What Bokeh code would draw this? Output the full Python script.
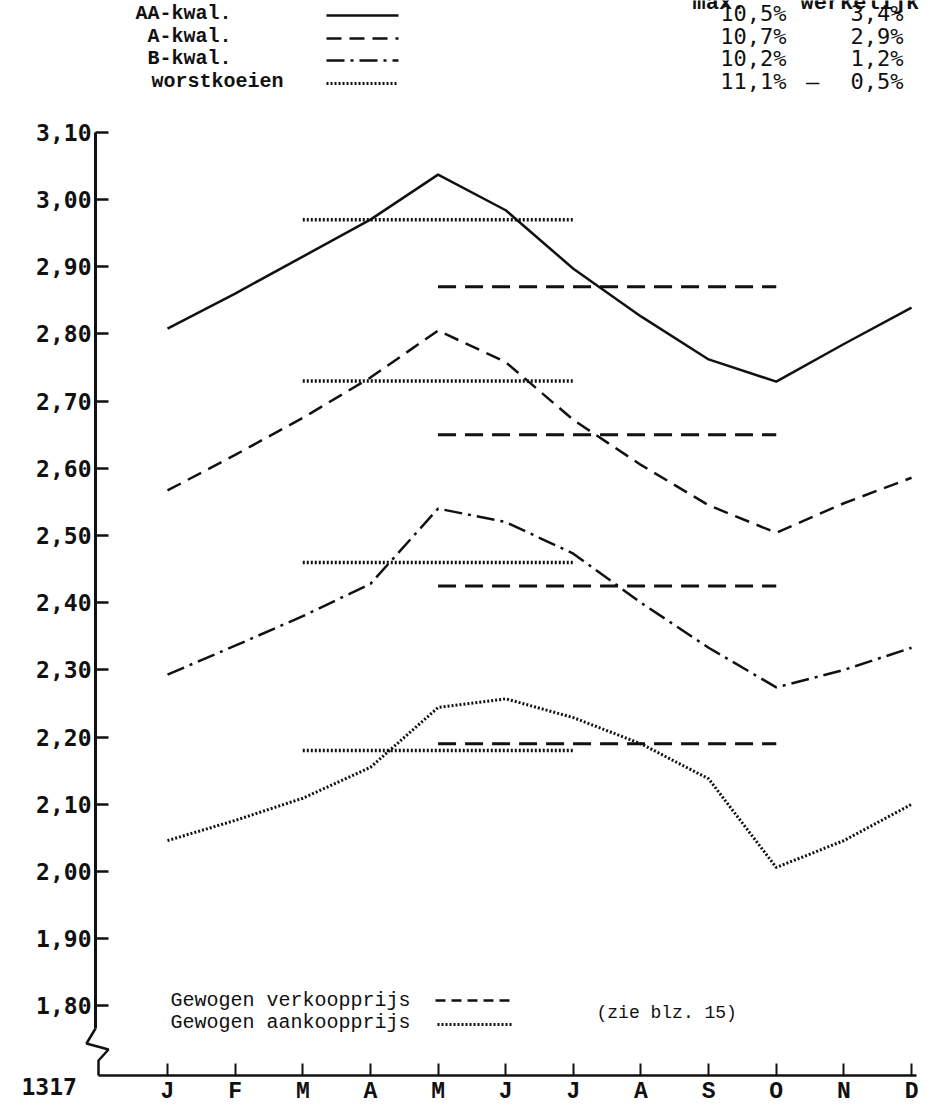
from bokeh.plotting import figure
from bokeh.models import Range1d, FixedTicker, LinearAxis, Label, CustomJSTickFormatter
from bokeh.embed import file_html
from bokeh.resources import INLINE

# ---------------- data ----------------
months = ["J", "F", "M", "A", "M", "J", "J", "A", "S", "O", "N", "D"]
month_pos = [1, 2, 3, 4, 5, 6, 7, 8, 9, 10, 11, 12]

aa_kwal = [2.808, 2.860, 2.915, 2.970, 3.037, 2.984, 2.897, 2.826, 2.762, 2.729, 2.785, 2.839]
a_kwal = [2.567, 2.620, 2.675, 2.735, 2.805, 2.758, 2.672, 2.605, 2.545, 2.504, 2.548, 2.586]
b_kwal = [2.293, 2.336, 2.380, 2.428, 2.540, 2.520, 2.473, 2.400, 2.333, 2.274, 2.300, 2.333]
worstkoeien = [2.046, 2.076, 2.109, 2.155, 2.244, 2.257, 2.229, 2.190, 2.138, 2.006, 2.046, 2.100]

# weighted purchase price (Mar-Jul) and weighted sale price (May-Oct)
aankoop_span = [3, 7]
aankoop = [2.97, 2.73, 2.46, 2.18]
verkoop_span = [5, 10]
verkoop = [2.87, 2.65, 2.425, 2.19]

series_names = ["AA-kwal.", "A-kwal.", "B-kwal.", "worstkoeien"]
max_pct = ["10,5%", "10,7%", "10,2%", "11,1%"]
werk_pct = ["3,4%", "2,9%", "1,2%", "0,5%"]

y_ticks = [1.80, 1.90, 2.00, 2.10, 2.20, 2.30, 2.40, 2.50, 2.60, 2.70, 2.80, 2.90, 3.00, 3.10]

# ---------------- layout helpers (picture pixel -> data) ----------------
W, H = 936, 1106
M1_PX, PX_MONTH = 167.0, 67.64
Y300_PX, PX_UNIT = 199.0, 672.0


def dx(px):
    return 1 + (px - M1_PX) / PX_MONTH


def dy(py):
    return 3.0 - (py - Y300_PX) / PX_UNIT


p = figure(width=W, height=H,
           x_range=Range1d(dx(0), dx(W)), y_range=Range1d(dy(H), dy(0)),
           output_backend="svg", toolbar_location=None,
           x_axis_location=None, y_axis_location=None,
           min_border=0, outline_line_color=None,
           background_fill_color="white", border_fill_color="white")
p.grid.visible = False

INK = "#111111"
NUM_FONT = "DejaVu Sans Mono"
TYPE_FONT = "Liberation Mono"

yax = LinearAxis(fixed_location=dx(95), ticker=FixedTicker(ticks=y_ticks),
                 formatter=CustomJSTickFormatter(code="return tick.toFixed(2).replace('.', ',')"),
                 bounds=(dy(1028), 3.10))
yax.axis_line_width = 3
yax.axis_line_color = INK
yax.major_tick_in = 13
yax.major_tick_out = 0
yax.major_tick_line_width = 2.5
yax.major_tick_line_color = INK
yax.minor_tick_line_color = None
yax.major_label_standoff = 4
yax.major_label_text_font = NUM_FONT
yax.major_label_text_font_size = "23px"
yax.major_label_text_font_style = "bold"
yax.major_label_text_color = INK
p.add_layout(yax, "left")

xax = LinearAxis(fixed_location=dy(1075), ticker=FixedTicker(ticks=month_pos),
                 major_label_overrides={m: lab for m, lab in zip(month_pos, months)},
                 bounds=(dx(98), dx(916)))
xax.axis_line_width = 2.5
xax.axis_line_color = INK
xax.major_tick_in = 12
xax.major_tick_out = 0
xax.major_tick_line_width = 2
xax.major_tick_line_color = INK
xax.minor_tick_line_color = None
xax.major_label_standoff = 3
xax.major_label_text_font = TYPE_FONT
xax.major_label_text_font_size = "23px"
xax.major_label_text_font_style = "bold"
xax.major_label_text_color = INK
p.add_layout(xax, "below")

# axis break (zig-zag)
p.line([dx(95), dx(86), dx(108), dx(98), dx(98)],
       [dy(1028), dy(1043), dy(1049), dy(1060), dy(1075)],
       line_width=2.5, line_color=INK)

# series
p.line(month_pos, aa_kwal, line_width=2.5, line_color=INK)
p.line(month_pos, a_kwal, line_width=2.5, line_color=INK, line_dash="15 8")
p.line(month_pos, b_kwal, line_width=2.5, line_color=INK, line_dash="18 6 3 6")
p.line(month_pos, worstkoeien, line_width=3, line_color=INK, line_dash="2 2")

# reference levels
p.multi_line([aankoop_span] * len(aankoop), [[v, v] for v in aankoop],
             line_width=3.5, line_color=INK, line_dash="2 2")
p.multi_line([verkoop_span] * len(verkoop), [[v, v] for v in verkoop],
             line_width=3, line_color=INK, line_dash="18 9")

# top legend (column header is cut off at the top edge, as in the original page)
p.add_layout(Label(x=dx(692), y=dy(3), text="max.", text_align="left", text_baseline="alphabetic",
                   text_font=TYPE_FONT, text_font_style="bold", text_font_size="22px", text_color=INK))
p.add_layout(Label(x=dx(800), y=dy(3), text="werkelijk", text_align="left", text_baseline="alphabetic",
                   text_font=TYPE_FONT, text_font_style="bold", text_font_size="22px", text_color=INK))

row_y = [13, 36, 58, 81]
name_right = [231, 231, 231, 283]
sample_dash = ["solid", "15 8", "18 6 3 6", "2 2"]
for name, ry, nr, dash, mx, wk in zip(series_names, row_y, name_right, sample_dash, max_pct, werk_pct):
    p.add_layout(Label(x=dx(nr), y=dy(ry), text=name, text_align="right", text_baseline="middle",
                       text_font=TYPE_FONT, text_font_style="bold", text_font_size="20px",
                       text_color=INK))
    p.line([dx(326), dx(398)], [dy(ry + 2), dy(ry + 2)], line_width=2.5 if dash != "2 2" else 3,
           line_color=INK, line_dash=dash)
    p.add_layout(Label(x=dx(786), y=dy(ry), text=mx, text_align="right", text_baseline="middle",
                       text_font=NUM_FONT, text_font_size="22px", text_color=INK))
    p.add_layout(Label(x=dx(903), y=dy(ry), text=wk, text_align="right", text_baseline="middle",
                       text_font=NUM_FONT, text_font_size="22px", text_color=INK))
p.add_layout(Label(x=dx(812), y=dy(81), text="\u2013", text_align="center", text_baseline="middle",
                   text_font=NUM_FONT, text_font_size="22px", text_color=INK))

# bottom legend
p.add_layout(Label(x=dx(170), y=dy(1000), text="Gewogen verkoopprijs", text_align="left",
                   text_baseline="middle", text_font=TYPE_FONT, text_font_size="20px",
                   text_color=INK))
p.add_layout(Label(x=dx(170), y=dy(1022), text="Gewogen aankoopprijs", text_align="left",
                   text_baseline="middle", text_font=TYPE_FONT, text_font_size="20px",
                   text_color=INK))
p.line([dx(435), dx(510)], [dy(1000), dy(1000)], line_width=2.5, line_color=INK, line_dash="10 6")
p.line([dx(437), dx(512)], [dy(1024), dy(1024)], line_width=3, line_color=INK, line_dash="2 2")
p.add_layout(Label(x=dx(596), y=dy(1012), text="(zie blz. 15)", text_align="left",
                   text_baseline="middle", text_font=TYPE_FONT, text_font_size="18px",
                   text_color=INK))

p.add_layout(Label(x=dx(21), y=dy(1086), text="1317", text_align="left", text_baseline="middle",
                   text_font=NUM_FONT, text_font_size="23px", text_font_style="bold", text_color=INK))

open("out.html", "w").write(file_html(p, INLINE))
